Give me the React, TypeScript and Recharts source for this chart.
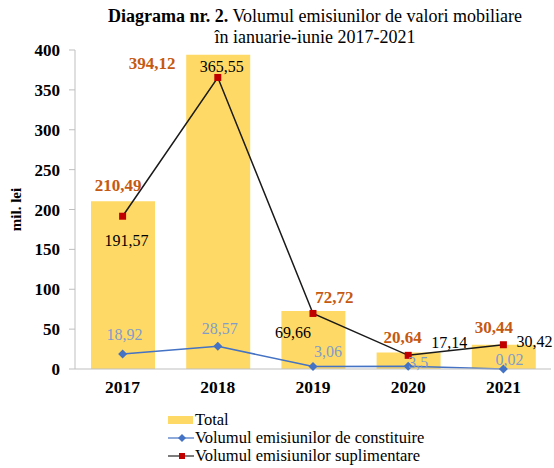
import React from 'react';
import { ComposedChart, Bar, Line, XAxis, YAxis, Legend, LabelList } from 'recharts';

const years = ['2017', '2018', '2019', '2020', '2021'];
const total = [210.49, 394.12, 72.72, 20.64, 30.44];
const constituire = [18.92, 28.57, 3.06, 3.5, 0.02];
const suplimentare = [191.57, 365.55, 69.66, 17.14, 30.42];
const yTicks = [0, 50, 100, 150, 200, 250, 300, 350, 400];

// label nudges (dx, dy) as placed in the original chart
const totalNudge = [[-5, -16], [-66, 9], [21, -14], [-6, -15], [-10, -17]];
const suplNudge = [[4, 24], [4, -11], [-20, 19], [41, -13], [31, -3]];
const constNudge = [[2, -19], [2, -18], [15, -15], [10, -4], [6, -9]];

const data = years.map((year, i) => ({
  year,
  total: total[i],
  constituire: constituire[i],
  suplimentare: suplimentare[i],
}));

const FONT = "'Liberation Serif', 'Times New Roman', serif";

const fmt = (v: number) => String(v).replace('.', ',');

const makeLabel = (nudge: number[][], color: string, bold: boolean, isBar: boolean) => (props: any) => {
  const { x, y, width, value, index } = props;
  const cx = isBar ? Number(x) + Number(width) / 2 : Number(x);
  const [dx, dy] = nudge[index] || [0, 0];
  return (
    <text
      x={cx + dx}
      y={Number(y) + dy}
      textAnchor="middle"
      dominantBaseline="central"
      fill={color}
      fontFamily={FONT}
      fontSize={bold ? 17 : 16}
      fontWeight={bold ? 'bold' : 'normal'}
    >
      {fmt(value)}
    </text>
  );
};

const Diamond = (props: any) => {
  const { cx, cy } = props;
  if (cx == null || cy == null) return null;
  return <path d={`M${cx},${cy - 4.5}L${cx + 4.5},${cy}L${cx},${cy + 4.5}L${cx - 4.5},${cy}Z`} fill="#4472c4" />;
};

const Square = (props: any) => {
  const { cx, cy } = props;
  if (cx == null || cy == null) return null;
  return <rect x={cx - 3.5} y={cy - 3.5} width={7} height={7} fill="#c00000" />;
};

const rowStyle: React.CSSProperties = { display: 'flex', alignItems: 'center', whiteSpace: 'nowrap', height: 18 };

const renderLegend = () => (
  <div style={{ fontFamily: FONT, fontSize: 16.5, lineHeight: '18px', color: '#000' }}>
    <div style={rowStyle}>
      <svg width={27} height={12}>
        <rect x={0} y={2} width={25} height={8} fill="#ffd966" />
      </svg>
      <span>Total</span>
    </div>
    <div style={rowStyle}>
      <svg width={27} height={12}>
        <line x1={0} y1={6} x2={26} y2={6} stroke="#4472c4" strokeWidth={1.2} />
        <path d="M14,2L18,6L14,10L10,6Z" fill="#4472c4" />
      </svg>
      <span>Volumul emisiunilor de constituire</span>
    </div>
    <div style={rowStyle}>
      <svg width={27} height={12}>
        <line x1={0} y1={6} x2={26} y2={6} stroke="#262626" strokeWidth={1.2} />
        <rect x={11} y={3} width={6} height={6} fill="#c00000" />
      </svg>
      <span>Volumul emisiunilor suplimentare</span>
    </div>
  </div>
);

export default function App() {
  return (
    <div style={{ position: 'absolute', left: 0, top: 0, width: 554, height: 468, background: '#fff' }}>
      <div
        style={{
          position: 'absolute',
          left: 95,
          top: 6,
          width: 440,
          textAlign: 'center',
          fontFamily: FONT,
          fontSize: 18,
          lineHeight: '21px',
          color: '#000',
          whiteSpace: 'nowrap',
          zIndex: 2,
        }}
      >
        <b>Diagrama nr. 2.</b> Volumul emisiunilor de valori mobiliare
        <br />
        în ianuarie-iunie 2017-2021
      </div>
      <ComposedChart
        width={554}
        height={468}
        data={data}
        margin={{ top: 50, right: 3, left: 0, bottom: 69 }}
        barSize={64}
      >
        <XAxis
          dataKey="year"
          height={30}
          axisLine={{ stroke: '#bfbfbf' }}
          tickLine={false}
          tickMargin={6}
          tick={{ fill: '#000', fontSize: 17.5, fontWeight: 'bold', fontFamily: FONT }}
        />
        <YAxis
          width={75}
          domain={[0, 400]}
          ticks={yTicks}
          interval={0}
          axisLine={{ stroke: '#bfbfbf' }}
          tickLine={{ stroke: '#bfbfbf' }}
          tickSize={6}
          tickMargin={9}
          tick={{ fill: '#000', fontSize: 17, fontWeight: 'bold', fontFamily: FONT }}
          label={{
            value: 'mil. lei',
            angle: -90,
            position: 'insideLeft',
            offset: 16,
            style: { fill: '#000', fontSize: 15, fontWeight: 'bold', fontFamily: FONT, textAnchor: 'middle' },
          }}
        />
        <Legend
          layout="vertical"
          align="center"
          verticalAlign="middle"
          content={renderLegend}
          wrapperStyle={{ position: 'absolute', left: 168, top: 411, width: 340, height: 54 }}
        />
        <Bar dataKey="total" name="Total" fill="#ffd966" isAnimationActive={false}>
          <LabelList dataKey="total" content={makeLabel(totalNudge, '#c65911', true, true)} />
        </Bar>
        <Line
          dataKey="constituire"
          name="Volumul emisiunilor de constituire"
          stroke="#4472c4"
          strokeWidth={1.5}
          dot={<Diamond />}
          activeDot={false}
          isAnimationActive={false}
        >
          <LabelList dataKey="constituire" content={makeLabel(constNudge, '#7f9ccb', false, false)} />
        </Line>
        <Line
          dataKey="suplimentare"
          name="Volumul emisiunilor suplimentare"
          stroke="#1a1a1a"
          strokeWidth={1.5}
          dot={<Square />}
          activeDot={false}
          isAnimationActive={false}
        >
          <LabelList dataKey="suplimentare" content={makeLabel(suplNudge, '#000', false, false)} />
        </Line>
      </ComposedChart>
    </div>
  );
}
